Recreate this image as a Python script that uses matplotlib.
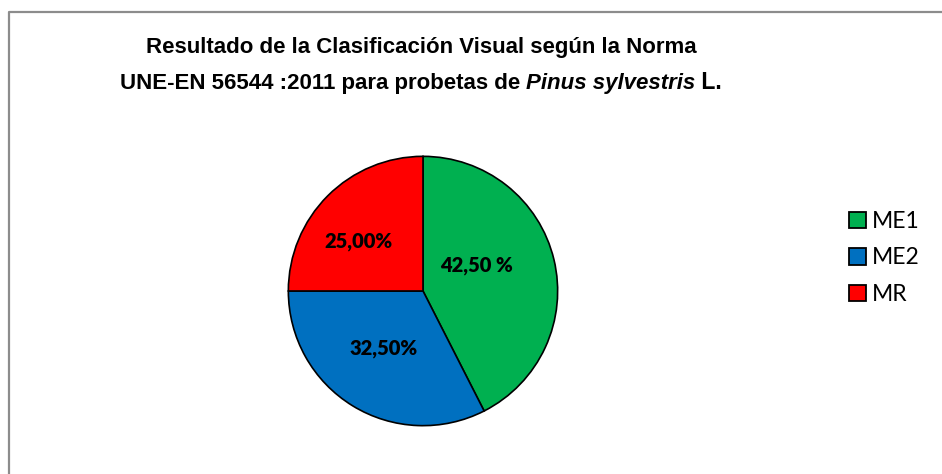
import matplotlib
matplotlib.use("Agg")
import matplotlib.pyplot as plt
from matplotlib.lines import Line2D
from matplotlib.patches import Patch

# -*- data -*-
categories = ["ME1", "ME2", "MR"]
shares = [42.5, 32.5, 25.0]
pct_labels = ["42,50 %", "32,50%", "25,00%"]
colors = ["#00B050", "#0070C0", "#FF0000"]
title_1 = "Resultado de la Clasificación Visual según la Norma"
title_2 = [("UNE-EN 56544 :2011 para probetas de ", "normal", 16),
           ("Pinus sylvestris", "italic", 16),
           (" L.", "normal", 16.6)]

W, H = 942, 474
fig = plt.figure(figsize=(W / 100, H / 100), dpi=100)

# -*- frame (chart area border, cut at right/bottom) -*-
fx, fy = 9 / W, 1 - 12 / H
fig.add_artist(Line2D([fx, fx, 1], [0, fy, fy], transform=fig.transFigure,
                      color="#8c8c8c", lw=1.6))

# -*- pie -*-
cx, cy, r = 423, 291, 136
ax = fig.add_axes([(cx - r) / W, (H - cy - r) / H, 2 * r / W, 2 * r / H])
wedges, _ = ax.pie(shares, colors=colors, startangle=90, counterclock=False,
                   radius=1, wedgeprops=dict(edgecolor="black", linewidth=1.2))
ax.set_xlim(-1.01, 1.01)
ax.set_ylim(-1.01, 1.01)
ax.set_aspect("equal")
ax.axis("off")

# label spots inside each slice (pie data units)
label_pos = [(0.40, 0.19), (-0.29, -0.43), (-0.48, 0.37)]
for (lx, ly), txt in zip(label_pos, pct_labels):
    ax.text(lx, ly, txt, ha="center", va="center", fontsize=14.5,
            fontweight="heavy", family="Lato", color="black")

# -*- legend -*-
handles = [Patch(facecolor=c, edgecolor="black", linewidth=1.3) for c in colors]
leg = fig.legend(handles, categories, loc="center left",
                 bbox_to_anchor=(849 / W, 1 - 258 / H), frameon=False,
                 prop=dict(family="Lato", size=16.5), handlelength=0.74,
                 handleheight=0.74, handletextpad=0.25, labelspacing=0.67,
                 borderpad=0, borderaxespad=0)

# -*- title (two lines, second one mixes italic) -*-
tcx = 421 / W
fig.text(tcx, 1 - 47 / H, title_1, ha="center", va="center", fontsize=16,
         fontweight="bold", family="Liberation Sans")

renderer = fig.canvas.get_renderer()
pieces = []
for s, style, size in title_2:
    t = fig.text(0, 1 - 82 / H, s, ha="left", va="baseline", fontsize=size,
                 fontweight="bold", fontstyle=style, family="Liberation Sans")
    pieces.append(t)
# put all pieces on the same baseline
pieces[0].set_va("center")
fig.canvas.draw()
bl = pieces[0].get_window_extent(renderer).y0 + 3.6
for p in pieces:
    p.set_va("baseline")
    p.set_y(bl / H)
widths = [p.get_window_extent(renderer).width for p in pieces]
x = tcx * W - sum(widths) / 2
for p, w in zip(pieces, widths):
    p.set_x(x / W)
    x += w

fig.savefig("out.png", dpi=100)
